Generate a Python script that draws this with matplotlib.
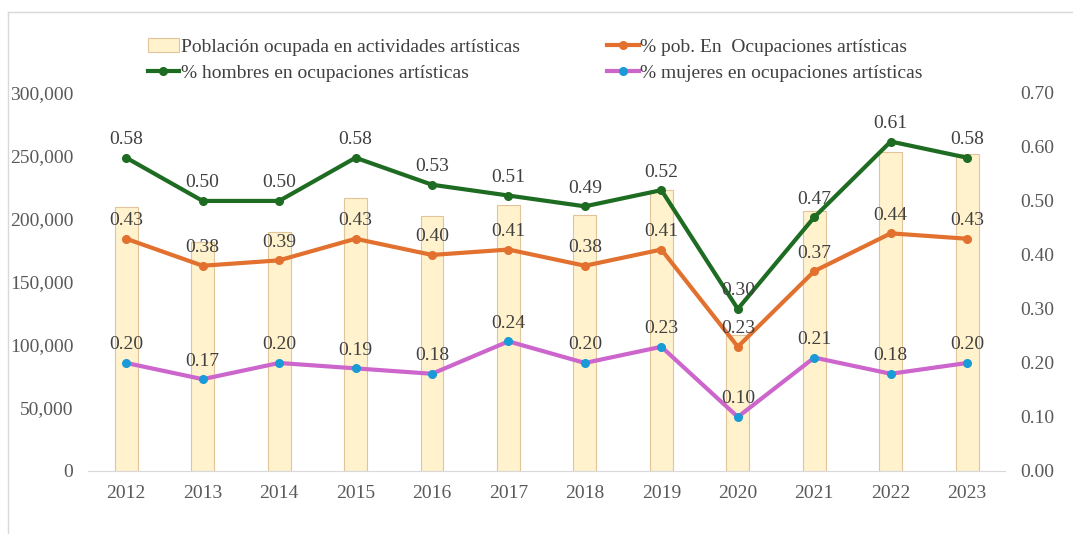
import numpy as np
import matplotlib.pyplot as plt
from matplotlib.lines import Line2D

plt.rcParams['font.family'] = ['Liberation Serif', 'DejaVu Serif']

# Data
years = ['2012', '2013', '2014', '2015', '2016', '2017', '2018', '2019', '2020', '2021', '2022', '2023']
poblacion = [209500, 182000, 190000, 216500, 202500, 211000, 203000, 223000, 108000, 206500, 253000, 251500]
pct_total = [0.43, 0.38, 0.39, 0.43, 0.40, 0.41, 0.38, 0.41, 0.23, 0.37, 0.44, 0.43]
pct_hombres = [0.58, 0.50, 0.50, 0.58, 0.53, 0.51, 0.49, 0.52, 0.30, 0.47, 0.61, 0.58]
pct_mujeres = [0.20, 0.17, 0.20, 0.19, 0.18, 0.24, 0.20, 0.23, 0.10, 0.21, 0.18, 0.20]

txt = '#595959'
fs = 14

fig = plt.figure(figsize=(10.73, 5.34), dpi=100)
ax = fig.add_axes([0.082, 0.118, 0.855, 0.708])
ax2 = ax.twinx()

x = np.arange(len(years))
bars = ax.bar(x, poblacion, width=0.3, color='#FFF2CC', edgecolor='#E2C49A', linewidth=0.8)
ax.set_ylim(0, 300000)
ax.set_yticks(np.arange(0, 300001, 50000))
ax.set_yticklabels([f'{v:,}' for v in range(0, 300001, 50000)])
ax.set_xlim(-0.5, len(years) - 0.5)
ax.set_xticks(x)
ax.set_xticklabels(years)

ax2.set_ylim(0, 0.70)
ax2.set_yticks(np.arange(0, 0.71, 0.1))
ax2.set_yticklabels([f'{v:.2f}' for v in np.arange(0, 0.71, 0.1)])

series = [
    (pct_hombres, '#1E6B22', '#1E6B22', '% hombres en ocupaciones artísticas'),
    (pct_total, '#E2702E', '#E2702E', '% pob. En  Ocupaciones artísticas'),
    (pct_mujeres, '#CC66CC', '#1A9AD6', '% mujeres en ocupaciones artísticas'),
]
handles = []
for vals, col, mcol, lab in series:
    ln, = ax2.plot(x, vals, color=col, lw=3, marker='o', ms=5.5,
                   markerfacecolor=mcol, markeredgecolor=mcol, label=lab)
    handles.append(ln)
    for xi, v in zip(x, vals):
        ax2.annotate(f'{v:.2f}', (xi, v), xytext=(0, 13), textcoords='offset points',
                     ha='center', va='center', fontsize=fs, color='#404040')

for a in (ax, ax2):
    for s in a.spines.values():
        s.set_visible(False)
    a.tick_params(length=0, labelsize=fs, colors=txt)
ax.spines['bottom'].set_visible(True)
ax.spines['bottom'].set_color('#D9D9D9')
ax.tick_params(axis='y', pad=10.5)
ax.tick_params(axis='x', pad=10)
ax2.tick_params(axis='y', pad=10.5)

leg_handles = [bars, handles[0], handles[1], handles[2]]
leg_labels = ['Población ocupada en actividades artísticas', handles[0].get_label(),
              handles[1].get_label(), handles[2].get_label()]
fig.legend(leg_handles, leg_labels, ncol=2, frameon=False, fontsize=fs,
           loc='upper left', bbox_to_anchor=(0.1215, 0.961), columnspacing=4.5,
           handlelength=1.6, handletextpad=0.1, labelspacing=0.45, labelcolor='#404040')

# thin chart-area border (top and left edges visible)
fig.add_artist(Line2D([8 / 1073, 1.0], [1 - 12 / 534, 1 - 12 / 534], color='#D9D9D9', lw=1))
fig.add_artist(Line2D([8 / 1073, 8 / 1073], [0.0, 1 - 12 / 534], color='#D9D9D9', lw=1))

fig.savefig('out.png', dpi=100)
